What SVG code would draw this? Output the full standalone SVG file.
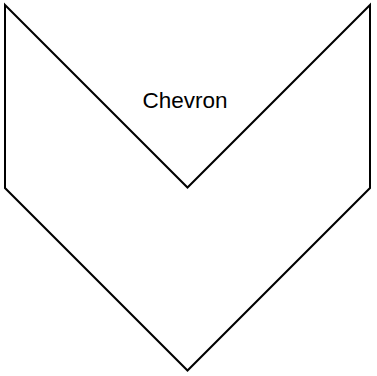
<svg xmlns="http://www.w3.org/2000/svg" width="377" height="376" viewBox="0 0 377 376">
<style>
.shape{fill:#ffffff;stroke:#000000;stroke-width:2;stroke-linejoin:miter}
.label{font-family:"Liberation Sans",Arial,sans-serif;font-size:22.5px;fill:#000000;text-anchor:middle}
</style>
<rect width="377" height="376" fill="#ffffff"/>
<g id="chevron">
<polygon class="shape" points="5,5 187.5,187.5 370,5 370,188 187.5,370.5 5,188"/>
<text class="label" x="185" y="108">Chevron</text>
</g>
<g id="connectors"></g>
</svg>
